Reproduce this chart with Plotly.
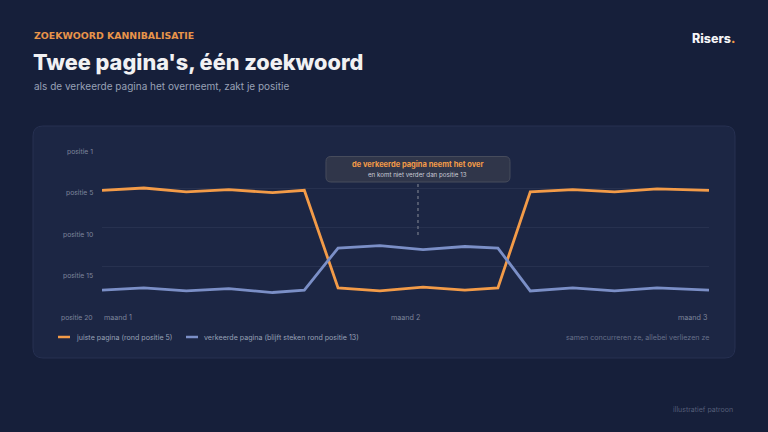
import plotly.graph_objects as go

# ---- data ----
days = [0, 6.2, 12.5, 18.8, 25.3, 30, 35, 41.2, 47.6, 53.8, 58.7, 63.5, 69.8, 76, 82.3, 90]
juiste = [5.3, 5.0, 5.5, 5.2, 5.6, 5.3, 17.8, 18.2, 17.7, 18.1, 17.8, 5.5, 5.2, 5.5, 5.1, 5.3]
verkeerde = [18.1, 17.8, 18.2, 17.9, 18.4, 18.1, 12.7, 12.4, 12.9, 12.5, 12.7, 18.2, 17.8, 18.2, 17.8, 18.1]
grid_vals = [0, 5, 10, 15, 20]
y_tick_labels = ["positie 1", "positie 5", "positie 10", "positie 15", "positie 20"]
x_tick_vals = [0, 45, 90]
x_tick_labels = ["maand 1", "maand 2", "maand 3"]
series_names = ["juiste pagina (rond positie 5)", "verkeerde pagina (blijft steken rond positie 13)"]
takeover_start, takeover_end = 6, 10  # indices where the wrong page takes over

# ---- style ----
W, H = 768, 432
L, R, T, B = 102, 59, 149, 127
PW, PH = W - L - R, H - T - B
BG = "#161f3a"
PANEL = "#1c2644"
PANEL_BORDER = "#263051"
GRID = "#27314f"
ORANGE = "#f39b48"
BLUE = "#7b8fc7"
FONT = "Inter"


def px(x):
    return (x - L) / PW


def py(y):
    return (H - B - y) / PH


def rounded_rect(x0, y0, x1, y1, r):
    rx, ry = r / PW, r / PH
    X0, X1 = px(x0), px(x1)
    Y0, Y1 = py(y0), py(y1)  # Y0 top (bigger), Y1 bottom
    return (f"M{X0+rx},{Y0} L{X1-rx},{Y0} Q{X1},{Y0} {X1},{Y0-ry} "
            f"L{X1},{Y1+ry} Q{X1},{Y1} {X1-rx},{Y1} L{X0+rx},{Y1} "
            f"Q{X0},{Y1} {X0},{Y1+ry} L{X0},{Y0-ry} Q{X0},{Y0} {X0+rx},{Y0} Z")


fig = go.Figure()
fig.add_trace(go.Scatter(x=days, y=juiste, mode="lines", name=series_names[0],
                         line=dict(color=ORANGE, width=2.8), showlegend=False, hoverinfo="skip"))
fig.add_trace(go.Scatter(x=days, y=verkeerde, mode="lines", name=series_names[1],
                         line=dict(color=BLUE, width=2.8), showlegend=False, hoverinfo="skip"))

shapes = []
# panel
shapes.append(dict(type="path", xref="paper", yref="paper", path=rounded_rect(33, 126, 735, 358, 10),
                   fillcolor=PANEL, line=dict(color=PANEL_BORDER, width=1), layer="below"))
# callout box
mid_x = (days[takeover_start] + days[takeover_end]) / 2
mid_px = L + mid_x / 90 * PW
shapes.append(dict(type="path", xref="paper", yref="paper",
                   path=rounded_rect(mid_px - 92, 156.5, mid_px + 92, 182, 5),
                   fillcolor="#30364a", line=dict(color="#474c5c", width=1), layer="above"))
# dotted leader
shapes.append(dict(type="line", xref="x", yref="paper", x0=mid_x, x1=mid_x, y0=py(184), y1=py(238),
                   line=dict(color="#646a7c", width=1.5, dash="dot")))
# custom legend markers
shapes.append(dict(type="line", xref="paper", yref="paper", x0=px(58), x1=px(70), y0=py(337), y1=py(337),
                   line=dict(color=ORANGE, width=2.5)))
shapes.append(dict(type="line", xref="paper", yref="paper", x0=px(186), x1=px(198), y0=py(337), y1=py(337),
                   line=dict(color=BLUE, width=2.5)))

ann = []


def text(x, y, s, size, color, xanchor="left", weight=None, ref="paper", family=FONT):
    f = dict(family=family, size=size, color=color)
    if weight:
        f["weight"] = weight
    ann.append(dict(x=x, y=y, xref=ref, yref="paper", text=s, showarrow=False,
                    xanchor=xanchor, yanchor="middle", font=f))


# header
text(px(32), py(36), "ZOEKWOORD KANNIBALISATIE", 9.4, "#e8944a", weight=700, family="DejaVu Sans")
text(px(31), py(62), "Twee pagina's, één zoekwoord", 21.7, "#f1f1f3", weight=800)
text(px(32), py(86), "als de verkeerde pagina het overneemt, zakt je positie", 10, "#98a1b6")
text(px(736.5), py(38), "Risers<span style='color:#f39b48'>.</span>", 12.5, "#f4f4f6", xanchor="right", weight=800)

# y labels (evenly distributed down the panel)
label_py = [151, 192.5, 234, 275.5, 317.5]
for lab, yy in zip(y_tick_labels, label_py):
    text(px(94.5), py(yy), lab, 6.8, "#7c859b", xanchor="right")

# x labels
anchors = ["left", "center", "right"]
for v, lab, a in zip(x_tick_vals, x_tick_labels, anchors):
    text(v, py(317.5), lab, 7.2, "#7c859b", xanchor=a, ref="x")

# callout text
text(mid_x, py(164.5), "de verkeerde pagina neemt het over", 7.5, ORANGE, xanchor="center", weight=700, ref="x")
text(mid_x, py(175), "en komt niet verder dan positie 13", 6.2, "#c9ccd6", xanchor="center", ref="x")

# legend text
text(px(74), py(337), series_names[0], 7.1, "#98a1b6")
text(px(202), py(337), series_names[1], 7.1, "#98a1b6")
text(px(710.5), py(337), "samen concurreren ze, allebei verliezen ze", 7.1, "#68718a", xanchor="right")

# footer
text(px(735), py(409), "illustratief patroon", 7, "#555e78", xanchor="right")

fig.update_layout(
    width=W, height=H,
    margin=dict(l=L, r=R, t=T, b=B),
    paper_bgcolor=BG, plot_bgcolor="rgba(0,0,0,0)",
    xaxis=dict(range=[0, 90], showgrid=False, zeroline=False, showticklabels=False, fixedrange=True),
    yaxis=dict(range=[20, 0], tickvals=grid_vals, showticklabels=False, showgrid=True,
               gridcolor=GRID, gridwidth=1, zeroline=False, fixedrange=True),
    shapes=shapes, annotations=ann, showlegend=False,
    font=dict(family=FONT),
)

fig.write_html("out.html", config=dict(displayModeBar=False))
